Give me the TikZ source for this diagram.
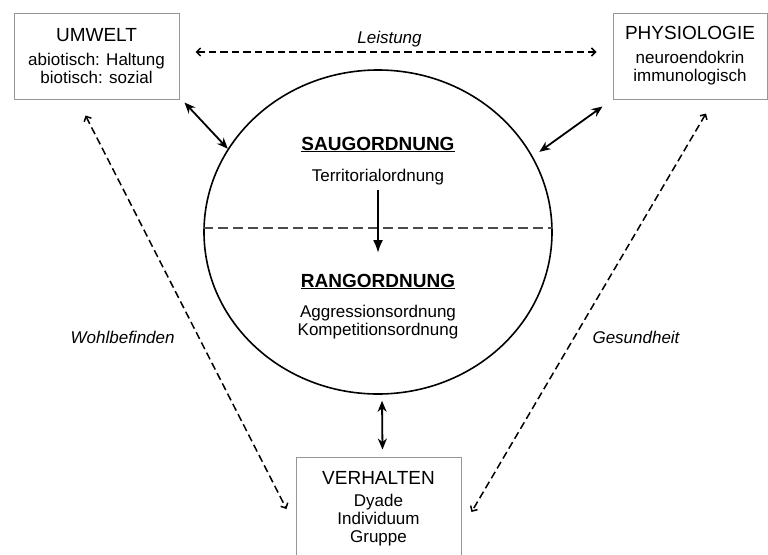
\documentclass[tikz,border=0pt]{standalone}
\usepackage{fontspec}
\setmainfont{Liberation Sans}
\usetikzlibrary{positioning}
\usetikzlibrary{shapes.geometric}
\usetikzlibrary{arrows.meta}
\definecolor{boxgray}{RGB}{150,150,150}
\newcommand{\headfont}{\fontsize{19}{22}\selectfont}
\newcommand{\bodyfont}{\fontsize{17}{18}\selectfont}
\tikzset{
  factor/.style={draw=boxgray, line width=1pt, minimum width=165pt, minimum height=86pt, align=center, font=\bodyfont},
  mutual/.style={{Stealth[length=11pt,width=9pt]}-{Stealth[length=11pt,width=9pt]}, line width=1.8pt},
  relation/.style={{Straight Barb[length=4pt,width=8pt]}-{Straight Barb[length=4pt,width=8pt]}, line width=1.5pt, dash pattern=on 7.5pt off 4pt},
  descend/.style={-{Latex[length=13pt,width=10pt]}, line width=2.8pt},
  divider/.style={line width=1.5pt, draw=black!70, dash pattern=on 10pt off 5pt},
  quality/.style={font=\bodyfont\itshape}
}

\begin{document}
\begin{tikzpicture}[x=1pt,y=-1pt]
\useasboundingbox (0,0) rectangle (768,554);
\node (umwelt) [factor] at (96.5,56) {{\headfont UMWELT}\\[6pt]abiotisch: Haltung\\biotisch: sozial};
\node (physiologie) [factor, minimum width=154pt] at (690,56) {{\headfont PHYSIOLOGIE}\\[6pt]neuroendokrin\\immunologisch};
\node (verhalten) [factor, minimum height=104pt] at (378.5,509) {{\headfont VERHALTEN}\\[4pt]Dyade\\Individuum\\Gruppe};
\node (ordnung) [ellipse, draw, line width=1.6pt, minimum width=348pt, minimum height=324pt, inner sep=0pt] at (378,232) {};
\node (saug) [anchor=base, font=\headfont\bfseries] at (378,150) {\underline{SAUGORDNUNG}};
\node (terr) [anchor=base, font=\bodyfont] at (378,181) {Territorialordnung};
\node (rang) [anchor=base, font=\headfont\bfseries] at (378,287) {\underline{RANGORDNUNG}};
\node (komp) [align=center, font=\bodyfont] at (378,322) {Aggressionsordnung\\Kompetitionsordnung};

\draw[divider] ([yshift=4pt]ordnung.west) -- ([yshift=4pt]ordnung.east);
\draw[descend, shorten <=2pt, shorten >=17pt] (terr.south) -- (rang.north);

\path[mutual] ([shift={(5,3)}]umwelt.south east) edge (ordnung.151.6)
  ([shift={(-10,7)}]physiologie.south west) edge[shorten >=8pt] (ordnung.26)
  ([shift={(4,6)}]ordnung.south) edge ([shift={(4,-7)}]verhalten.north);

\path[relation] ([yshift=4pt]umwelt.east) edge[shorten <=16pt, shorten >=16pt] node[pos=0.485, above=1pt, quality] {Leistung} ([yshift=4pt]physiologie.west)
  ([shift={(-11,16)}]umwelt.south) edge node[pos=0.563, left=20pt, quality] {Wohlbefinden} ([xshift=-9pt]verhalten.west)
  ([shift={(16,14)}]physiologie.south) edge node[pos=0.561, right=14pt, quality] {Gesundheit} ([shift={(10,3)}]verhalten.east);
\end{tikzpicture}
\end{document}
